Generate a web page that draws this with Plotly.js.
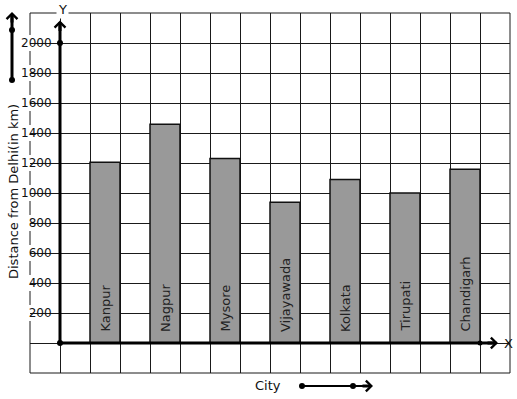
<!DOCTYPE html>
<html>
<head>
<meta charset="utf-8">
<script src="https://cdn.plot.ly/plotly-3.0.1.min.js"></script>
<style>html,body{margin:0;padding:0;background:#fff;}#chart{width:517px;height:399px;}</style>
</head>
<body>
<div id="chart"></div>
<script>
// ---- data ----
var cities = ["Kanpur", "Nagpur", "Mysore", "Vijayawada", "Kolkata", "Tirupati", "Chandigarh"];
var distances = [1205, 1458, 1230, 938, 1090, 1000, 1158];
var yTickVals = [200, 400, 600, 800, 1000, 1200, 1400, 1600, 1800, 2000];
var yTickText = ["200", "400", "600", "800", "1000", "1200", "1400", "1600", "1800", "2000"];

// ---- layout helpers ----
var FONT = "DejaVu Sans, sans-serif";
var INK = "#1a1a1a";
var W = 517, H = 399, ML = 30, MR = 7, MT = 13, MB = 26;
var PW = W - ML - MR, PH = H - MT - MB;
function px2x(px) { return (px - ML) / PW; }
function px2y(py) { return (H - MB - py) / PH; }

var xPos = cities.map(function (c, i) { return 1.5 + 2 * i; });

var traces = [
  {
    type: "bar",
    x: xPos,
    y: distances,
    width: 1,
    marker: { color: "#999999", line: { color: "#111", width: 1.5 } },
    hoverinfo: "skip",
    showlegend: false
  },
  { type: "scatter", x: [], y: [], yaxis: "y2", showlegend: false, hoverinfo: "skip" }
];

var shapes = [];
// outer border
shapes.push({ type: "rect", xref: "paper", yref: "paper", x0: 0, x1: 1, y0: 0, y1: 1,
  line: { color: INK, width: 1 }, layer: "below" });
// white backgrounds behind tick labels
yTickVals.forEach(function (v) {
  shapes.push({ type: "rect", xref: "paper", yref: "y", ysizemode: "pixel", yanchor: v,
    x0: px2x(19), x1: px2x(53), y0: -8, y1: 8,
    fillcolor: "#fff", line: { width: 0 }, layer: "between" });
});
// main axes lines
shapes.push({ type: "line", xref: "x", yref: "y", x0: 0, y0: 0, x1: 0, y1: 2140,
  line: { color: "#000", width: 3 }, layer: "above" });
shapes.push({ type: "line", xref: "x", yref: "y", x0: 0, y0: 0, x1: 14.55, y1: 0,
  line: { color: "#000", width: 3 }, layer: "above" });
// decorative direction arrows
shapes.push({ type: "line", xref: "paper", yref: "paper", x0: px2x(12), y0: px2y(80), x1: px2x(12), y1: px2y(14),
  line: { color: "#000", width: 3 }, layer: "above" });
shapes.push({ type: "line", xref: "paper", yref: "paper", x0: px2x(302), y0: px2y(386), x1: px2x(371), y1: px2y(386),
  line: { color: "#000", width: 2 }, layer: "above" });
// dots
function dot(xref, yref, x, y, r) {
  shapes.push({ type: "circle", xref: xref, yref: yref, xsizemode: "pixel", ysizemode: "pixel",
    xanchor: x, yanchor: y, x0: -r, x1: r, y0: -r, y1: r,
    fillcolor: "#000", line: { width: 0 }, layer: "above" });
}
dot("x", "y", 0, 0, 3);
dot("x", "y", 0, 2000, 3);
dot("x", "y", 14, 0, 2.5);
dot("paper", "paper", px2x(12), px2y(30), 3);
dot("paper", "paper", px2x(12), px2y(80), 3);
dot("paper", "paper", px2x(302), px2y(386), 3);
dot("paper", "paper", px2x(353), px2y(386), 3);

var annotations = [];
// arrow heads
function head(xref, yref, x, y, axp, ayp) {
  annotations.push({ xref: xref, yref: yref, x: x, y: y, ax: axp, ay: ayp, axref: "pixel", ayref: "pixel",
    text: "", showarrow: true, arrowhead: 4, arrowsize: 0.7, arrowwidth: 3, arrowcolor: "#000",
    standoff: 0, startstandoff: 0 });
}
head("x", "y", 0, 2150, 0, 12);
head("x", "y", 14.6, 0, -12, 0);
head("paper", "paper", px2x(12), px2y(12), 0, 12);
head("paper", "paper", px2x(373), px2y(386), -12, 0);

// bar labels
cities.forEach(function (c, i) {
  annotations.push({ xref: "x", yref: "y", x: xPos[i], y: 0, text: c, showarrow: false,
    textangle: -90, yanchor: "bottom", xanchor: "center", yshift: 9,
    font: { family: FONT, size: 13, color: "#222" } });
});
// axis letters and titles
function label(xref, yref, x, y, text, angle, bg) {
  var a = { xref: xref, yref: yref, x: x, y: y, text: text, showarrow: false,
    xanchor: "center", yanchor: "middle", textangle: angle || 0,
    font: { family: FONT, size: 13, color: "#111" } };
  if (bg) a.bgcolor = bg;
  annotations.push(a);
}
label("paper", "paper", px2x(62), px2y(9), "Y", 0, "#fff");
label("paper", "y", px2x(508), 0, "X", 0);
label("paper", "paper", px2x(268), px2y(385), "City", 0);
label("paper", "paper", px2x(13), px2y(192), "Distance from Delhi(in km)", -90);

var layout = {
  width: W, height: H,
  margin: { l: ML, r: MR, t: MT, b: MB, pad: 0 },
  paper_bgcolor: "#fff", plot_bgcolor: "#fff",
  showlegend: false,
  font: { family: FONT, color: "#111" },
  xaxis: { range: [-1, 15], tick0: 0, dtick: 1, showgrid: true, gridcolor: INK, gridwidth: 1,
    showticklabels: false, ticks: "", zeroline: false, showline: false, fixedrange: true },
  yaxis: { range: [-200, 2200], tick0: 0, dtick: 200, showgrid: true, gridcolor: INK, gridwidth: 1,
    showticklabels: false, ticks: "", zeroline: false, showline: false, fixedrange: true },
  yaxis2: { overlaying: "y", anchor: "free", position: px2x(60), side: "left",
    range: [-200, 2200], tickmode: "array", tickvals: yTickVals, ticktext: yTickText,
    ticks: "outside", ticklen: 6, tickcolor: INK, tickwidth: 1,
    tickfont: { family: FONT, size: 12, color: "#111" },
    showgrid: false, zeroline: false, showline: false, fixedrange: true },
  shapes: shapes,
  annotations: annotations
};

Plotly.newPlot("chart", traces, layout, { displayModeBar: false, staticPlot: true });
</script>
</body>
</html>
